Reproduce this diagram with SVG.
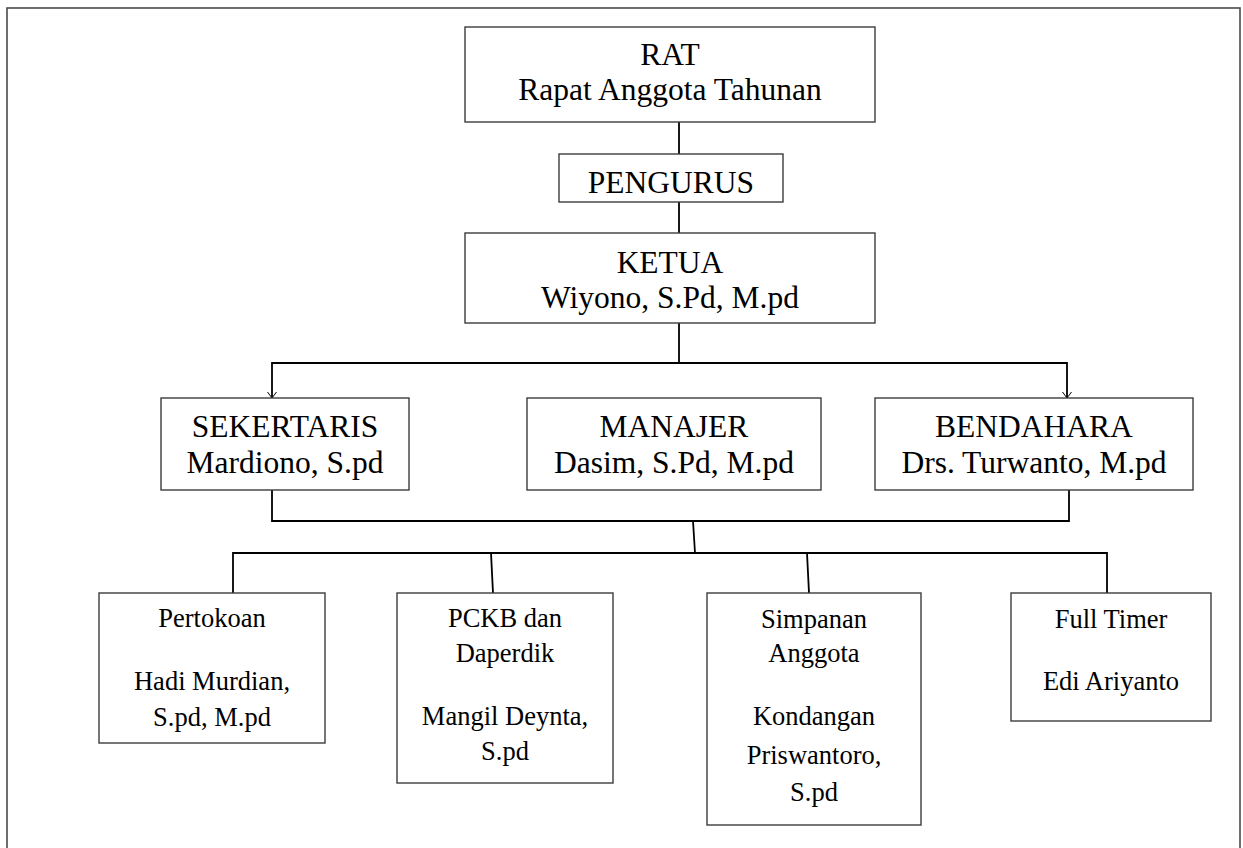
<svg xmlns="http://www.w3.org/2000/svg" width="1243" height="848" viewBox="0 0 1243 848">
<style>
.box{fill:#fff;stroke:#3c3c3c;stroke-width:1.4}
.t{font-family:"Liberation Serif","Times New Roman",serif;fill:#000;text-anchor:middle}
.big{font-size:31.5px}
.sm{font-size:26.5px}
.c{fill:none;stroke:#000;stroke-width:1.8}
.ah{fill:none;stroke:#000;stroke-width:1}
</style>
<rect width="1243" height="848" fill="#fff"/>
<rect x="7" y="8" width="1233" height="860" fill="none" stroke="#4a4a4a" stroke-width="1.6"/>
<g id="connectors">
<path class="c" d="M679 122V154M679 202V233M679 323V363"/>
<path class="c" d="M272 398V363H1067V398"/>
<path class="ah" d="M267.5 392L272 398L276.5 392M1062.5 392L1067 398L1071.5 392"/>
<path class="c" d="M272 490V521H1069V490"/>
<path class="c" d="M693 521L695 553"/>
<path class="c" d="M233 593V553H1107V593"/>
<path class="c" d="M491 553L493 593M807 553L809 593"/>
</g>
<g id="rat">
<rect class="box" x="465" y="27" width="410" height="95"/>
<text class="t big" x="670" y="65">RAT</text>
<text class="t big" x="670" y="100">Rapat Anggota Tahunan</text>
</g>
<g id="pengurus">
<rect class="box" x="559" y="154" width="224" height="48"/>
<text class="t big" x="671" y="193">PENGURUS</text>
</g>
<g id="ketua">
<rect class="box" x="465" y="233" width="410" height="90"/>
<text class="t big" x="670" y="273">KETUA</text>
<text class="t big" x="670" y="308">Wiyono, S.Pd, M.pd</text>
</g>
<g id="sekertaris">
<rect class="box" x="161" y="398" width="248" height="92"/>
<text class="t big" x="285" y="437">SEKERTARIS</text>
<text class="t big" x="285" y="473">Mardiono, S.pd</text>
</g>
<g id="manajer">
<rect class="box" x="527" y="398" width="294" height="92"/>
<text class="t big" x="674" y="437">MANAJER</text>
<text class="t big" x="674" y="473">Dasim, S.Pd, M.pd</text>
</g>
<g id="bendahara">
<rect class="box" x="875" y="398" width="318" height="92"/>
<text class="t big" x="1034" y="437">BENDAHARA</text>
<text class="t big" x="1034" y="473">Drs. Turwanto, M.pd</text>
</g>
<g id="pertokoan">
<rect class="box" x="99" y="593" width="226" height="150"/>
<text class="t sm" x="212" y="627">Pertokoan</text>
<text class="t sm" x="212" y="690">Hadi Murdian,</text>
<text class="t sm" x="212" y="726">S.pd, M.pd</text>
</g>
<g id="pckb">
<rect class="box" x="397" y="593" width="216" height="190"/>
<text class="t sm" x="505" y="627">PCKB dan</text>
<text class="t sm" x="505" y="662">Daperdik</text>
<text class="t sm" x="505" y="725">Mangil Deynta,</text>
<text class="t sm" x="505" y="760">S.pd</text>
</g>
<g id="simpanan">
<rect class="box" x="707" y="593" width="214" height="232"/>
<text class="t sm" x="814" y="628">Simpanan</text>
<text class="t sm" x="814" y="662">Anggota</text>
<text class="t sm" x="814" y="725">Kondangan</text>
<text class="t sm" x="814" y="764">Priswantoro,</text>
<text class="t sm" x="814" y="801">S.pd</text>
</g>
<g id="fulltimer">
<rect class="box" x="1011" y="593" width="200" height="128"/>
<text class="t sm" x="1111" y="628">Full Timer</text>
<text class="t sm" x="1111" y="690">Edi Ariyanto</text>
</g>
</svg>
